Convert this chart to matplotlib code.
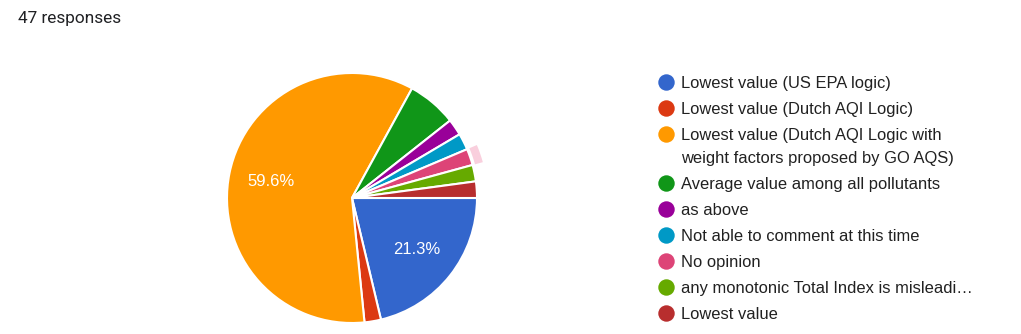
import matplotlib
matplotlib.use("Agg")
import matplotlib.pyplot as plt
from matplotlib.patches import Wedge

categories = [
    "Lowest value (US EPA logic)",
    "Lowest value (Dutch AQI Logic)",
    "Lowest value (Dutch AQI Logic with\nweight factors proposed by GO AQS)",
    "Average value among all pollutants",
    "as above",
    "Not able to comment at this time",
    "No opinion",
    "any monotonic Total Index is misleadi\u2026",
    "Lowest value",
]
counts = [10, 1, 28, 3, 1, 1, 1, 1, 1]
colors = ["#3366cc", "#dc3912", "#ff9900", "#109618", "#990099",
          "#0099c6", "#dd4477", "#66aa00", "#b82e2e"]
title = "47 responses"
highlight_index = 6

plt.rcParams['font.family'] = ['Liberation Sans', 'DejaVu Sans']

W, H = 1021, 334
fig = plt.figure(figsize=(W / 100, H / 100), dpi=100)

cx, cy, r = 352, 198, 125
ax = fig.add_axes([(cx - r) / W, (H - cy - r) / H, 2 * r / W, 2 * r / H])

def pct(p):
    return f"{p:.1f}%" if p > 10 else ""

wedges, texts, autotexts = ax.pie(
    counts, colors=colors, startangle=0, counterclock=False,
    autopct=pct, pctdistance=0.66,
    wedgeprops=dict(edgecolor="white", linewidth=1.5),
    textprops=dict(color="white", fontsize=12),
)
ax.set_xlim(-1, 1)
ax.set_ylim(-1, 1)
ax.set_aspect("auto")

# hover highlight ring
w = wedges[highlight_index]
ring = Wedge((0, 0), 1.085, w.theta1, w.theta2, width=0.065,
             facecolor="#f9cfdd", edgecolor="none", clip_on=False)
ax.add_patch(ring)

fig.text(18 / W, 1 - 18 / H, title, fontsize=12.4, color="#202124",
         va="center", ha="left", family=['Roboto', 'DejaVu Sans'])

# legend
lax = fig.add_axes([0, 0, 1, 1])
lax.set_xlim(0, W)
lax.set_ylim(H, 0)
lax.axis("off")
y = 82
for cat, col in zip(categories, colors):
    lax.scatter([666], [y], s=140, color=col, zorder=3, linewidths=0)
    lines = cat.split("\n")
    for i, ln in enumerate(lines):
        lax.text(681, y + i * 23, ln, fontsize=11.9, color="#212121",
                 va="center_baseline", ha="left")
    y += 26 + 23 * (len(lines) - 1)

fig.savefig("out.png", dpi=100)
